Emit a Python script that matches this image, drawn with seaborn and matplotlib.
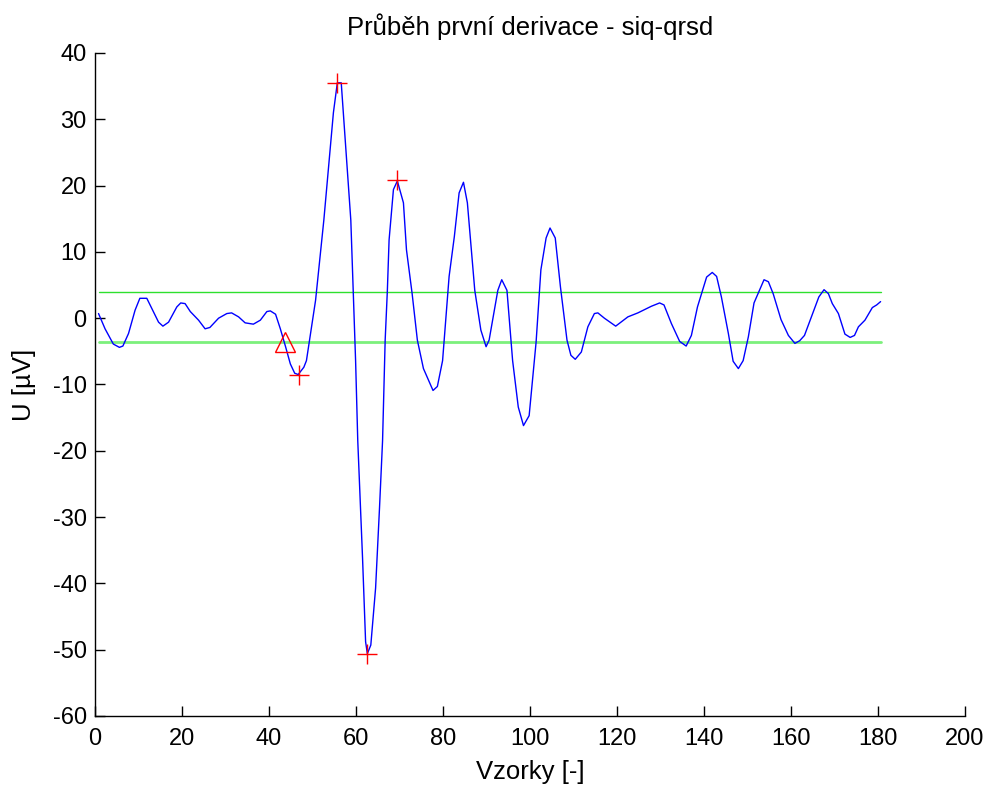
import numpy as np
import pandas as pd
import seaborn as sns
import matplotlib
import matplotlib.pyplot as plt
matplotlib.use('agg')

# --------------------- data ---------------------
# vertices of the first derivative (sample index, value in uV)
vzorky = [0.8, 2.3, 4.2, 5.6, 6.4, 7.7, 9.2, 10.3, 11.9, 13.4, 14.6, 15.6, 16.9, 18.8, 19.7,
          20.7, 21.9, 23.8, 25.3, 26.4, 28.4, 30.3, 31.4, 33.0, 34.5, 36.4, 38.0, 39.5, 40.3,
          41.5, 42.6, 43.8, 44.9, 45.9, 46.7, 48.0, 48.6, 50.7, 52.6, 54.8, 55.7, 56.6, 58.8,
          59.9, 60.4, 61.5, 62.2, 62.6, 63.4, 64.5, 65.4, 66.1, 66.7, 67.2, 67.6, 68.6, 69.5,
          70.9, 71.6, 72.9, 74.1, 75.5, 77.7, 78.7, 79.9, 81.4, 82.6, 83.7, 84.7, 85.6, 87.3,
          88.7, 89.9, 90.6, 92.6, 93.5, 94.7, 96.0, 97.3, 98.5, 99.8, 101.4, 102.5, 103.7,
          104.6, 105.8, 107.0, 108.5, 109.4, 110.4, 111.8, 113.3, 114.8, 115.6, 117.1, 119.7,
          122.5, 124.8, 127.9, 129.8, 130.8, 132.5, 134.4, 135.9, 137.1, 138.5, 140.6, 141.9,
          142.9, 144.0, 145.6, 146.7, 147.9, 149.0, 150.2, 151.5, 152.8, 153.8, 154.8, 155.9,
          157.7, 159.4, 160.9, 162.0, 163.1, 164.7, 166.4, 167.6, 168.6, 169.5, 170.9, 172.4,
          173.6, 174.6, 175.5, 177.0, 178.7, 179.7, 180.6]
derivace = [0.7, -1.6, -3.9, -4.4, -4.2, -2.3, 1.2, 3.0, 3.0, 1.0, -0.6, -1.2, -0.6, 1.7, 2.3,
            2.2, 1.0, -0.3, -1.6, -1.4, 0.0, 0.7, 0.8, 0.2, -0.7, -0.9, -0.3, 1.0, 1.1,
            0.6, -1.6, -4.3, -6.9, -8.3, -8.5, -7.4, -6.4, 2.7, 14.8, 31.0, 35.5, 35.5, 14.8,
            -6.4, -18.5, -36.2, -48.8, -50.6, -49.3, -40.7, -28.6, -18.5, -3.3, 4.1, 11.8, 19.4, 20.7,
            17.4, 10.3, 3.7, -3.3, -7.6, -10.9, -10.3, -6.4, 6.3, 12.3, 18.9, 20.5, 17.4, 4.2,
            -1.8, -4.3, -3.3, 4.2, 5.8, 4.2, -6.4, -13.4, -16.2, -14.7, -3.6, 7.3, 12.1,
            13.6, 12.1, 4.7, -3.3, -5.6, -6.2, -5.1, -1.3, 0.7, 0.8, 0.0, -1.2,
            0.2, 0.8, 1.8, 2.3, 2.0, -0.8, -3.5, -4.2, -2.6, 1.7, 6.2, 6.9,
            6.3, 3.2, -2.3, -6.5, -7.6, -6.4, -2.8, 2.3, 4.3, 5.8, 5.5, 3.7,
            -0.2, -2.6, -3.8, -3.4, -2.6, 0.2, 3.2, 4.3, 3.7, 2.2, 0.7, -2.4,
            -2.9, -2.6, -1.3, -0.3, 1.6, 2.0, 2.5]

prah_horni = 4.0
prah_dolni = -3.6

# detected extremes (+) and the onset (triangle)
extremy_x = [46.9, 55.7, 62.6, 69.5]
extremy_y = [-8.6, 35.5, -50.6, 20.8]
zacatek_x = [43.6]
zacatek_y = [-3.6]

x_ticks = [0, 20, 40, 60, 80, 100, 120, 140, 160, 180, 200]
y_ticks = [-60, -50, -40, -30, -20, -10, 0, 10, 20, 30, 40]

# ----------------------------------------------------------------------
sns.set_style('white')
plt.rcParams['font.family'] = ['Liberation Sans', 'DejaVu Sans']
plt.rcParams['axes.unicode_minus'] = False
plt.rcParams['text.color'] = 'black'
plt.rcParams['axes.labelcolor'] = 'black'

df = pd.DataFrame({'vzorky': vzorky, 'derivace': derivace})
df_prah = pd.DataFrame({'vzorky': [vzorky[0], vzorky[-1]] * 2,
                        'prah': [prah_horni, prah_horni, prah_dolni, prah_dolni],
                        'typ': ['horni', 'horni', 'dolni', 'dolni']})

fig = plt.figure(figsize=(9.88, 7.85), dpi=100)
ax = fig.add_axes([0.0962, 0.0879, 0.8805, 0.8446])

sns.lineplot(data=df_prah[df_prah['typ'] == 'horni'], x='vzorky', y='prah', color='#2ee02e',
             linewidth=1.0, ax=ax)
sns.lineplot(data=df_prah[df_prah['typ'] == 'dolni'], x='vzorky', y='prah', color='#7cf07c',
             linewidth=2.0, ax=ax)
sns.lineplot(data=df, x='vzorky', y='derivace', sort=False, color='#0000ff', linewidth=1.0, ax=ax)

ax.plot(extremy_x, extremy_y, '+', color='#ff0000', markersize=14, markeredgewidth=1.0)
ax.plot(zacatek_x, zacatek_y, '^', color='#ff0000', markerfacecolor='none', markersize=15,
        markeredgewidth=1.0)

ax.set_xlim(0, 200)
ax.set_ylim(-60, 40)
ax.set_xticks(x_ticks)
ax.set_yticks(y_ticks)
ax.tick_params(direction='in', length=7, width=1, colors='black', labelsize=17,
               bottom=True, left=True, top=False, right=False)
ax.tick_params(axis='x', pad=9)
ax.tick_params(axis='y', pad=6)
for side in ['top', 'right']:
    ax.spines[side].set_visible(False)
for side in ['left', 'bottom']:
    ax.spines[side].set_color('black')
    ax.spines[side].set_linewidth(1.0)

ax.set_title('Průběh první derivace - siq-qrsd', fontsize=18.5, pad=13, color='black')
ax.set_xlabel('Vzorky [-]', fontsize=18.5, labelpad=7)
ax.set_ylabel('U [µV]', fontsize=18.5, labelpad=12)

fig.savefig('out.png', dpi=100)
